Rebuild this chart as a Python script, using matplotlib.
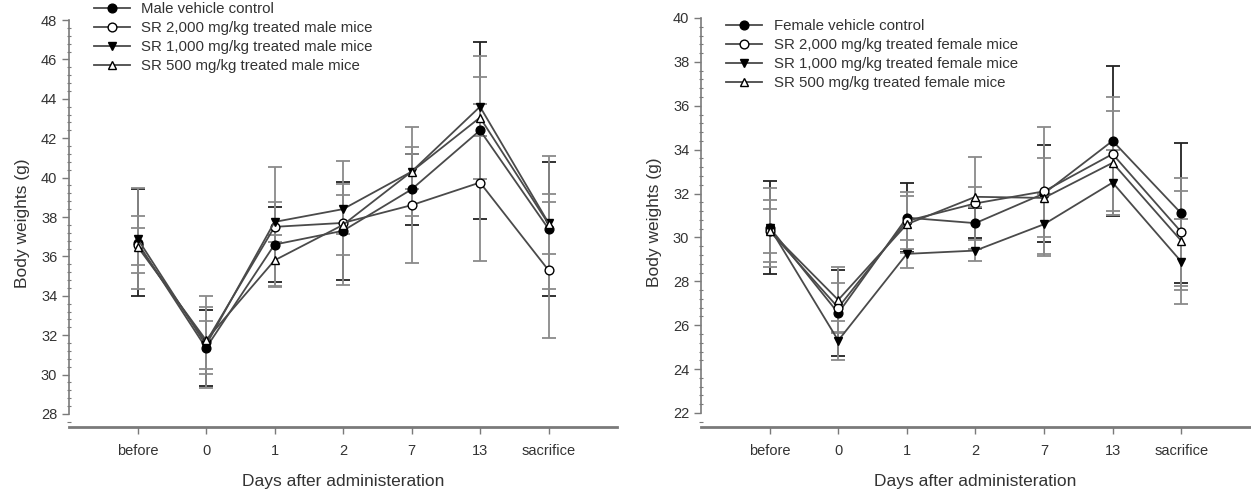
import matplotlib

matplotlib.use("Agg")
import matplotlib.pyplot as plt
from matplotlib.ticker import MultipleLocator

plt.rcParams["font.family"] = ["Liberation Sans", "DejaVu Sans"]

# x categories
days = ["before", "0", "1", "2", "7", "13", "sacrifice"]

# male body weights (g), mean and SD
male_ctrl = [36.7, 31.35, 36.6, 37.3, 39.4, 42.4, 37.4]
male_ctrl_sd = [2.7, 1.95, 1.9, 2.5, 1.8, 4.5, 3.4]
male_2000 = [36.6, 31.65, 37.5, 37.7, 38.6, 39.75, 35.3]
male_2000_sd = [1.45, 2.35, 3.05, 3.15, 2.95, 4.0, 3.45]
male_1000 = [36.9, 31.5, 37.75, 38.4, 40.3, 43.6, 37.7]
male_1000_sd = [2.55, 1.2, 1.0, 1.25, 2.25, 1.5, 3.38]
male_500 = [36.5, 31.75, 35.8, 37.6, 40.3, 43.05, 37.65]
male_500_sd = [0.95, 1.7, 1.3, 1.54, 0.88, 3.1, 1.52]

# female body weights (g), mean and SD
fem_ctrl = [30.45, 26.55, 30.9, 30.65, 32.0, 34.4, 31.1]
fem_ctrl_sd = [2.1, 1.95, 1.57, 0.68, 2.2, 3.42, 3.2]
fem_2000 = [30.3, 26.8, 30.75, 31.55, 32.1, 33.8, 30.25]
fem_2000_sd = [1.4, 1.1, 1.3, 2.1, 2.95, 2.6, 2.45]
fem_1000 = [30.45, 25.3, 29.25, 29.4, 30.6, 32.5, 28.9]
fem_1000_sd = [1.8, 0.9, 0.65, 0.47, 1.36, 1.5, 1.95]
fem_500 = [30.3, 27.15, 30.6, 31.85, 31.8, 33.4, 29.85]
fem_500_sd = [1.0, 1.5, 1.3, 0.45, 1.8, 2.37, 2.25]

male_labels = ["Male vehicle control",
               "SR 2,000 mg/kg treated male mice",
               "SR 1,000 mg/kg treated male mice",
               "SR 500 mg/kg treated male mice"]
fem_labels = ["Female vehicle control",
              "SR 2,000 mg/kg treated female mice",
              "SR 1,000 mg/kg treated female mice",
              "SR 500 mg/kg treated female mice"]

# (marker, facecolor, errorbar colour) per group
STYLES = [("o", "black", "#222222"),
          ("o", "white", "#8a8a8a"),
          ("v", "black", "#8a8a8a"),
          ("^", "white", "#8a8a8a")]

AX_GRAY = "#7a7a7a"
TXT = "#333333"


def draw_panel(ax, series, labels, ylo, yhi, ybottom, leg_y):
    x = list(range(len(days)))
    for (means, sds), label, (mk, fc, ecol) in zip(series, labels, STYLES):
        ax.errorbar(x, means, yerr=sds, fmt="none", ecolor=ecol,
                    elinewidth=1.3, capsize=5, capthick=1.3, zorder=2)
        ax.plot(x, means, color="#4a4a4a", lw=1.3, marker=mk,
                markersize=6.3, markerfacecolor=fc, markeredgecolor="black",
                markeredgewidth=1.0, label=label, zorder=3)

    ax.set_xlim(-1, 7)
    ax.set_ylim(ybottom, yhi)
    ax.set_xticks(x)
    ax.set_xticklabels(days)
    ax.yaxis.set_major_locator(MultipleLocator(2))
    ax.yaxis.set_minor_locator(MultipleLocator(0.4))
    ax.set_yticks(range(ylo, yhi + 1, 2))

    for s in ("top", "right"):
        ax.spines[s].set_visible(False)
    ax.spines["left"].set_bounds(ylo, yhi)
    ax.spines["left"].set_color(AX_GRAY)
    ax.spines["left"].set_linewidth(1.2)
    ax.spines["bottom"].set_color(AX_GRAY)
    ax.spines["bottom"].set_linewidth(2.0)

    ax.tick_params(axis="both", which="major", colors=AX_GRAY,
                   labelcolor=TXT, labelsize=10.5, length=5, width=1.0)
    ax.tick_params(axis="y", which="minor", colors=AX_GRAY, length=3,
                   width=0.8, direction="inout")
    ax.tick_params(axis="x", pad=7)

    ax.set_xlabel("Days after administeration", fontsize=12.5, color=TXT,
                  labelpad=12)
    ax.set_ylabel("Body weights (g)", fontsize=12.5, color=TXT, labelpad=8)

    leg = ax.legend(loc="upper left", bbox_to_anchor=(0.035, leg_y),
                    frameon=False, fontsize=10.8, handlelength=2.4,
                    handletextpad=0.75, labelspacing=0.33, borderaxespad=0)
    for t in leg.get_texts():
        t.set_color(TXT)


fig = plt.figure(figsize=(12.51, 4.93), dpi=100)
ax1 = fig.add_axes([0.0552, 0.1339, 0.438, 0.8255])
ax2 = fig.add_axes([0.5604, 0.1339, 0.4386, 0.8296])

draw_panel(ax1,
           [(male_ctrl, male_ctrl_sd), (male_2000, male_2000_sd),
            (male_1000, male_1000_sd), (male_500, male_500_sd)],
           male_labels, 28, 48, 27.34, 1.058)
draw_panel(ax2,
           [(fem_ctrl, fem_ctrl_sd), (fem_2000, fem_2000_sd),
            (fem_1000, fem_1000_sd), (fem_500, fem_500_sd)],
           fem_labels, 22, 40, 21.36, 1.012)

fig.savefig("out.png", dpi=100)
